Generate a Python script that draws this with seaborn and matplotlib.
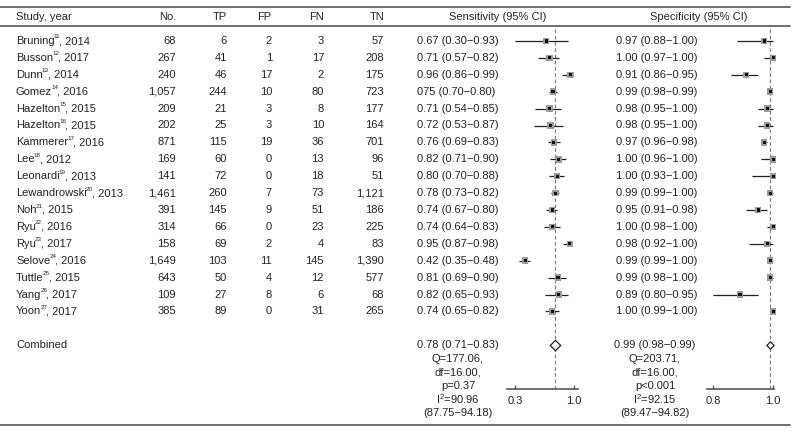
import numpy as np
import pandas as pd
import matplotlib.pyplot as plt
import seaborn as sns

studies = ["Bruning", "Busson", "Dunn", "Gomez", "Hazelton", "Hazelton", "Kammerer", "Lee",
           "Leonardi", "Lewandrowski", "Noh", "Ryu", "Ryu", "Selove", "Tuttle", "Yang", "Yoon"]
refs = [11, 12, 13, 14, 15, 16, 17, 18, 19, 20, 21, 22, 23, 24, 25, 26, 27]
years = [2014, 2017, 2014, 2016, 2015, 2015, 2016, 2012, 2013, 2013, 2015, 2016, 2017, 2016, 2015, 2017, 2017]
n_total = [68, 267, 240, 1057, 209, 202, 871, 169, 141, 1461, 391, 314, 158, 1649, 643, 109, 385]
tp = [6, 41, 46, 244, 21, 25, 115, 60, 72, 260, 145, 66, 69, 103, 50, 27, 89]
fp = [2, 1, 17, 10, 3, 3, 19, 0, 0, 7, 9, 0, 2, 11, 4, 8, 0]
fn = [3, 17, 2, 80, 8, 10, 36, 13, 18, 73, 51, 23, 4, 145, 12, 6, 31]
tn = [57, 208, 175, 723, 177, 164, 701, 96, 51, 1121, 186, 225, 83, 1390, 577, 68, 265]

sens = [0.67, 0.71, 0.96, 0.75, 0.71, 0.72, 0.76, 0.82, 0.80, 0.78, 0.74, 0.74, 0.95, 0.42, 0.81, 0.82, 0.74]
sens_lo = [0.30, 0.57, 0.86, 0.70, 0.54, 0.53, 0.69, 0.71, 0.70, 0.73, 0.67, 0.64, 0.87, 0.35, 0.69, 0.65, 0.65]
sens_hi = [0.93, 0.82, 0.99, 0.80, 0.85, 0.87, 0.83, 0.90, 0.88, 0.82, 0.80, 0.83, 0.98, 0.48, 0.90, 0.93, 0.82]
spec = [0.97, 1.00, 0.91, 0.99, 0.98, 0.98, 0.97, 1.00, 1.00, 0.99, 0.95, 1.00, 0.98, 0.99, 0.99, 0.89, 1.00]
spec_lo = [0.88, 0.97, 0.86, 0.98, 0.95, 0.95, 0.96, 0.96, 0.93, 0.99, 0.91, 0.98, 0.92, 0.99, 0.98, 0.80, 0.99]
spec_hi = [1.00, 1.00, 0.95, 0.99, 1.00, 1.00, 0.98, 1.00, 1.00, 1.00, 0.98, 1.00, 1.00, 1.00, 1.00, 0.95, 1.00]

sens_comb = [0.78, 0.71, 0.83]
spec_comb = [0.99, 0.98, 0.99]
sens_stats = ["0.78 (0.71\u22120.83)", "Q=177.06,", "df=16.00,", "p=0.37", "I$^2$=90.96", "(87.75\u221294.18)"]
spec_stats = ["0.99 (0.98\u22120.99)", "Q=203.71,", "df=16.00,", "p<0.001", "I$^2$=92.15", "(89.47\u221294.82)"]

sns.set_theme(style="white")
plt.rcParams['font.family'] = ['Liberation Sans', 'DejaVu Sans']
plt.rcParams['mathtext.fontset'] = 'custom'
plt.rcParams['mathtext.rm'] = 'Liberation Sans'
plt.rcParams['mathtext.default'] = 'regular'

txt = '#222222'
fs = 8
row0, step = 41, 16.9   # pixel y of first row, row spacing
comb_row = 18

fig = plt.figure(figsize=(7.96, 4.34), dpi=100)
bg = fig.add_axes([0, 0, 1, 1])
bg.set_xlim(0, 796)
bg.set_ylim(434, 0)
bg.axis('off')
renderer = fig.canvas.get_renderer()

# rules
for y in [6.7, 25.7, 425]:
    bg.plot([0, 790], [y, y], color='#555555', lw=1.2)

# header
hy = 17
bg.text(16, hy, "Study, year", fontsize=fs, color=txt, va='center')
for x, h in zip([176, 227, 271, 324, 384], ["No.", "TP", "FP", "FN", "TN"]):
    bg.text(x, hy, h, fontsize=fs, color=txt, va='center', ha='right')
bg.text(498, hy, "Sensitivity (95% CI)", fontsize=fs, color=txt, va='center', ha='center')
bg.text(699, hy, "Specificity (95% CI)", fontsize=fs, color=txt, va='center', ha='center')

sens_text = [f"{e:.2f} ({l:.2f}\u2212{h:.2f})" for e, l, h in zip(sens, sens_lo, sens_hi)]
sens_text[3] = "075 (0.70\u22120.80)"
spec_text = [f"{e:.2f} ({l:.2f}\u2212{h:.2f})" for e, l, h in zip(spec, spec_lo, spec_hi)]


def right_edge(t):
    bb = t.get_window_extent(renderer)
    return bb.x1 / fig.dpi / 7.96 * 796


for i in range(len(studies)):
    y = row0 + step * i
    t = bg.text(16, y, studies[i], fontsize=fs, color=txt, va='center')
    x1 = right_edge(t)
    s = bg.text(x1 - 1.0, y - 4, str(refs[i]), fontsize=4.5, color=txt, va='center')
    x2 = right_edge(s)
    bg.text(x2 - 1.0, y, f", {years[i]}", fontsize=fs, color=txt, va='center')
    for x, v in zip([176, 227, 272, 324, 384], [n_total[i], tp[i], fp[i], fn[i], tn[i]]):
        bg.text(x, y, f"{v:,}", fontsize=fs, color=txt, va='center', ha='right')
    bg.text(417, y, sens_text[i], fontsize=fs, color=txt, va='center')
    bg.text(616, y, spec_text[i], fontsize=fs, color=txt, va='center')

yc = row0 + step * comb_row
bg.text(16, yc, "Combined", fontsize=fs, color=txt, va='center')
for k, (a, b) in enumerate(zip(sens_stats, spec_stats)):
    bg.text(458, yc + 13.5 * k, a, fontsize=fs, color=txt, va='center', ha='center')
    bg.text(655, yc + 13.5 * k, b, fontsize=fs, color=txt, va='center', ha='center')


def forest(left, right, est, lo, hi, comb, xlim, ticks, dsize):
    top_px, bot_px = 26, 389
    ax = fig.add_axes([left / 796, 1 - bot_px / 434, (right - left) / 796, (bot_px - top_px) / 434])
    ax.patch.set_alpha(0)
    df = pd.DataFrame({'row': np.arange(len(est)), 'est': est, 'lo': lo, 'hi': hi})
    ax.hlines(df['row'], df['lo'], df['hi'], color='#222222', lw=0.9, zorder=2, clip_on=False)
    sns.scatterplot(data=df, x='est', y='row', marker='s', s=22, color='#9a9a9a', edgecolor='none',
                    ax=ax, zorder=3, legend=False, clip_on=False)
    sns.scatterplot(data=df, x='est', y='row', marker='s', s=5, color='#111111', edgecolor='none',
                    ax=ax, zorder=4, legend=False, clip_on=False)
    ax.axvline(comb[0], color='#808080', lw=0.9, ls=(0, (3, 2)), zorder=1)
    ax.scatter([comb[0]], [comb_row], marker='D', s=dsize, facecolor='white', edgecolor='#222222',
               lw=0.9, zorder=5, clip_on=False)
    ax.set_xlim(*xlim)
    ax.set_ylim((bot_px - row0) / step, (top_px - row0) / step)
    ax.set_yticks([])
    ax.set_xticks(ticks)
    ax.set_xticklabels([f"{t:.1f}" for t in ticks], fontsize=fs, color=txt)
    ax.tick_params(axis='x', direction='in', length=3, width=1, color='#555555', pad=5, bottom=True)
    for s in ['top', 'left', 'right']:
        ax.spines[s].set_visible(False)
    ax.spines['bottom'].set_color('#555555')
    ax.spines['bottom'].set_linewidth(1.2)
    ax.set_xlabel('')
    ax.set_ylabel('')
    return ax


forest(507, 578, sens, sens_lo, sens_hi, sens_comb, (0.205, 1.047), [0.3, 1.0], 28)
forest(707, 774, spec, spec_lo, spec_hi, spec_comb, (0.78, 1.003), [0.8, 1.0], 14)

fig.savefig("out.png", dpi=100)
